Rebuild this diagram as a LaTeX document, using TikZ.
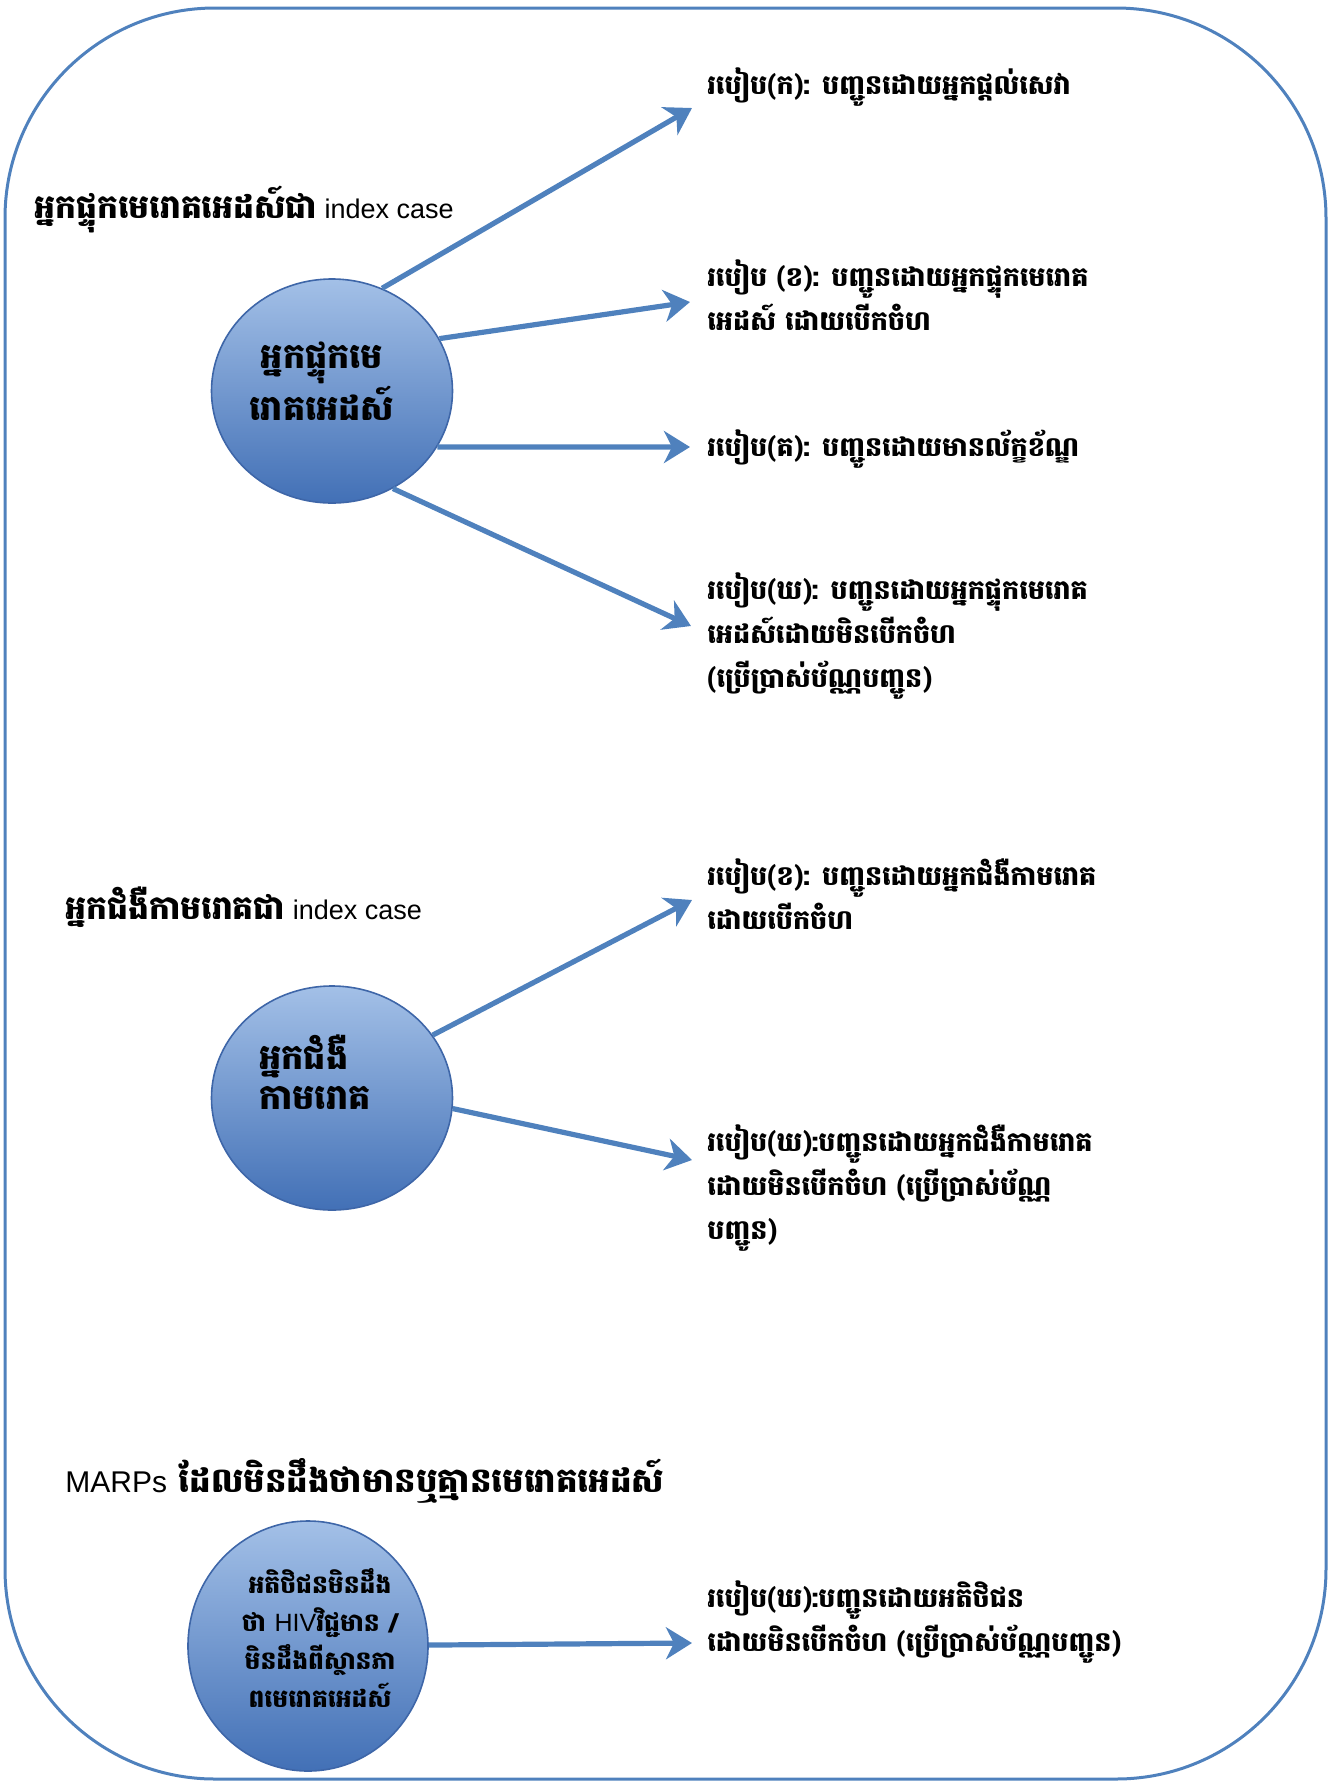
\documentclass[tikz,border=0pt]{standalone}
\usepackage{fontspec}
\usepackage{tikz}
\usetikzlibrary{arrows.meta,shapes.geometric}
\newfontfamily\khm[Script=Khmer]{Battambang}
\newfontfamily\lat{Liberation Sans}
\definecolor{boxblue}{RGB}{79,129,189}
\definecolor{balltop}{RGB}{163,192,231}
\definecolor{ballbot}{RGB}{66,112,182}
\definecolor{ballrim}{RGB}{62,102,168}

\begin{document}
\begin{tikzpicture}[x=0.5pt,y=-0.5pt]
        \tikzstyle{every node}=[inner sep=0pt, font=\khm\bfseries\fontsize{13.5}{22}\selectfont]
        \tikzstyle{ball}=[ellipse, draw=ballrim, line width=0.8pt, top color=balltop, bottom color=ballbot, minimum width=120.5pt, minimum height=112pt]
        \tikzstyle{balltext}=[align=center, font=\khm\bfseries\fontsize{17.5}{20}\selectfont]
        \tikzstyle{route}=[anchor=base west, align=left]
        \tikzstyle{heading}=[anchor=base west, font=\khm\bfseries\fontsize{16.5}{20}\selectfont]
        \tikzstyle{flow}=[draw=boxblue, line width=2.6pt, -{Stealth[length=13pt,width=16pt,inset=4pt]}]
        \useasboundingbox (0,0) rectangle (1341,1784);
        \draw[boxblue, line width=1.5pt, rounded corners=105pt] (5,8) rectangle (1326,1779);

        \node[heading] (hivtitle) at (34,218) {អ្នកផ្ទុកមេរោគអេដស៍ជា{\lat\mdseries\fontsize{13.5}{20}\selectfont\ index case}};
        \node[ball] (hiv) at (332,391) {};
        \node[balltext] (hivtext) at (322,381) {អ្នកផ្ទុកមេ\\រោគអេដស៍};
        \node[route] (ka) at (707,94) {របៀប(ក): បញ្ជូនដោយអ្នកផ្តល់សេវា};
        \node[route] (kha) at (707,330) {របៀប (ខ): បញ្ជូនដោយអ្នកផ្ទុកមេរោគ\\អេដស៍ ដោយបើកចំហ};
        \node[route] (ko) at (707,456) {របៀប(គ): បញ្ជូនដោយមានល័ក្ខខ័ណ្ឌ};
        \node[route] (kho) at (707,687) {របៀប(ឃ): បញ្ជូនដោយអ្នកផ្ទុកមេរោគ\\អេដស៍ដោយមិនបើកចំហ\\(ប្រើប្រាស់ប័ណ្ណបញ្ជូន)};
        \coordinate (tipka) at (692,108);
        \coordinate (tipkha) at (690,302);
        \coordinate (tipko) at (690,447);
        \coordinate (tipkho) at (691,626);
        \draw[flow] (hiv.64) -- (tipka);
        \draw[flow] (hiv.26) -- (tipkha);
        \draw[flow] (hiv.-28) -- (tipko);
        \draw[flow] (hiv.-58) -- (tipkho);

        \node[heading] (stititle) at (65,919) {អ្នកជំងឺកាមរោគជា{\lat\mdseries\fontsize{13.5}{20}\selectfont\ index case}};
        \node[ball] (sti) at (332,1098) {};
        \node[balltext, anchor=west, align=left] (stitext) at (259,1072) {អ្នកជំងឺ\\កាមរោគ};
        \node[route] (stikha) at (707,929) {របៀប(ខ): បញ្ជូនដោយអ្នកជំងឺកាមរោគ\\ដោយបើកចំហ};
        \node[route] (stikho) at (707,1239) {របៀប(ឃ):បញ្ជូនដោយអ្នកជំងឺកាមរោគ\\ដោយមិនបើកចំហ (ប្រើប្រាស់ប័ណ្ណ\\បញ្ជូន)};
        \coordinate (tipstikha) at (692,900);
        \coordinate (tipstikho) at (692,1160);
        \draw[flow] (sti.32) -- (tipstikha);
        \draw[flow] (sti.-5) -- (tipstikho);

        \node[heading, font=\khm\bfseries\fontsize{17}{20}\selectfont] (marptitle) at (65,1492) {{\lat\mdseries\fontsize{15}{20}\selectfont MARPs} ដែលមិនដឹងថាមានឬគ្មានមេរោគអេដស៍};
        \node[ball, minimum width=120pt, minimum height=125pt] (marp) at (308,1646) {};
        \node[balltext, font=\khm\bfseries\fontsize{12.5}{19}\selectfont] (marptext) at (320,1638) {អតិថិជនមិនដឹង\\ថា {\lat\mdseries HIV}វិជ្ជមាន /\\មិនដឹងពីស្ថានភា\\ពមេរោគអេដស៍};
        \node[route] (marpkho) at (707,1651) {របៀប(ឃ):បញ្ជូនដោយអតិថិជន\\ដោយមិនបើកចំហ (ប្រើប្រាស់ប័ណ្ណបញ្ជូន)};
        \coordinate (tipmarp) at (692,1643);
        \draw[flow] (marp) -- (tipmarp);
\end{tikzpicture}
\end{document}
